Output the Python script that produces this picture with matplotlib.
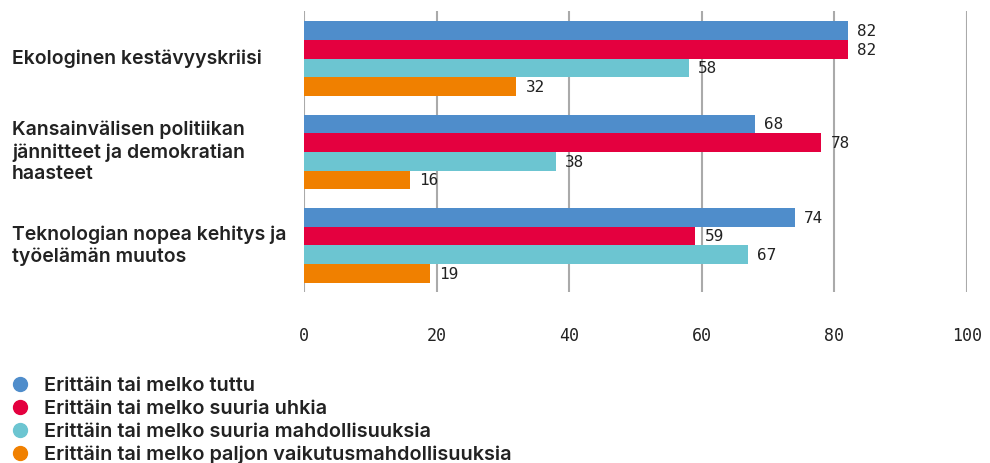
import matplotlib
matplotlib.use("Agg")
import matplotlib.pyplot as plt
import matplotlib.transforms as mtransforms
from matplotlib.lines import Line2D
import numpy as np

plt.rcParams['font.family'] = ['Inter', 'DejaVu Sans']

categories = [
    "Ekologinen kestävyyskriisi",
    "Kansainvälisen politiikan\njännitteet ja demokratian\nhaasteet",
    "Teknologian nopea kehitys ja\ntyöelämän muutos",
]
series_names = [
    "Erittäin tai melko tuttu",
    "Erittäin tai melko suuria uhkia",
    "Erittäin tai melko suuria mahdollisuuksia",
    "Erittäin tai melko paljon vaikutusmahdollisuuksia",
]
tuttu = [82, 68, 74]
uhkia = [82, 78, 59]
mahdollisuuksia = [58, 38, 67]
vaikutus = [32, 16, 19]
series_values = [tuttu, uhkia, mahdollisuuksia, vaikutus]
colors = ["#4F8DCB", "#E4003F", "#6CC5D1", "#F08000"]
xticks = [0, 20, 40, 60, 80, 100]

num_font = ['DejaVu Sans Mono']
txt_color = '#222222'

fig = plt.figure(figsize=(9.9, 4.63), dpi=100)
ax = fig.add_axes([304/990, 1-292/463, (967-304)/990, (292-11)/463])

bh = 0.2
y = np.arange(len(categories))
for i, (vals, c) in enumerate(zip(series_values, colors)):
    pos = y - 1.5*bh + i*bh
    ax.barh(pos, vals, height=bh, color=c, zorder=3)
    for p, v in zip(pos, vals):
        ax.text(v + 1.4, p + 0.01, str(v), va='center', ha='left', fontsize=11.5,
                color=txt_color, zorder=4, family=num_font)

ax.set_xlim(0, 100)
ax.set_ylim(2.5, -0.51)
ax.set_xticks(xticks)
ax.set_xticklabels([str(t) for t in xticks], fontsize=12, color=txt_color,
                   family=num_font)
ax.tick_params(axis='x', length=0, pad=25)
ax.set_yticks(y)
ax.set_yticklabels([])
ax.tick_params(axis='y', length=0)

trans = mtransforms.blended_transform_factory(fig.transFigure, ax.transData)
for yi, cat in zip(y, categories):
    ax.text(12/990, yi, cat, transform=trans, ha='left', va='center',
            fontsize=14, fontweight='semibold', color=txt_color,
            linespacing=1.25)

for s in ax.spines.values():
    s.set_visible(False)
ax.grid(axis='x', color='#AAAAAA', linewidth=1.5, zorder=0)
ax.set_axisbelow(True)

handles = [Line2D([0], [0], marker='o', linestyle='none', markersize=10,
                  markerfacecolor=c, markeredgecolor=c) for c in colors]
leg = fig.legend(handles, series_names, loc='upper left',
                 bbox_to_anchor=(10/990, 1-377/463), frameon=False,
                 handlelength=1.0, handletextpad=0.72,
                 labelspacing=0.25, borderpad=0, borderaxespad=0,
                 prop={'weight': 'semibold', 'size': 14.3})
for t in leg.get_texts():
    t.set_color(txt_color)

fig.savefig("out.png", dpi=100)
